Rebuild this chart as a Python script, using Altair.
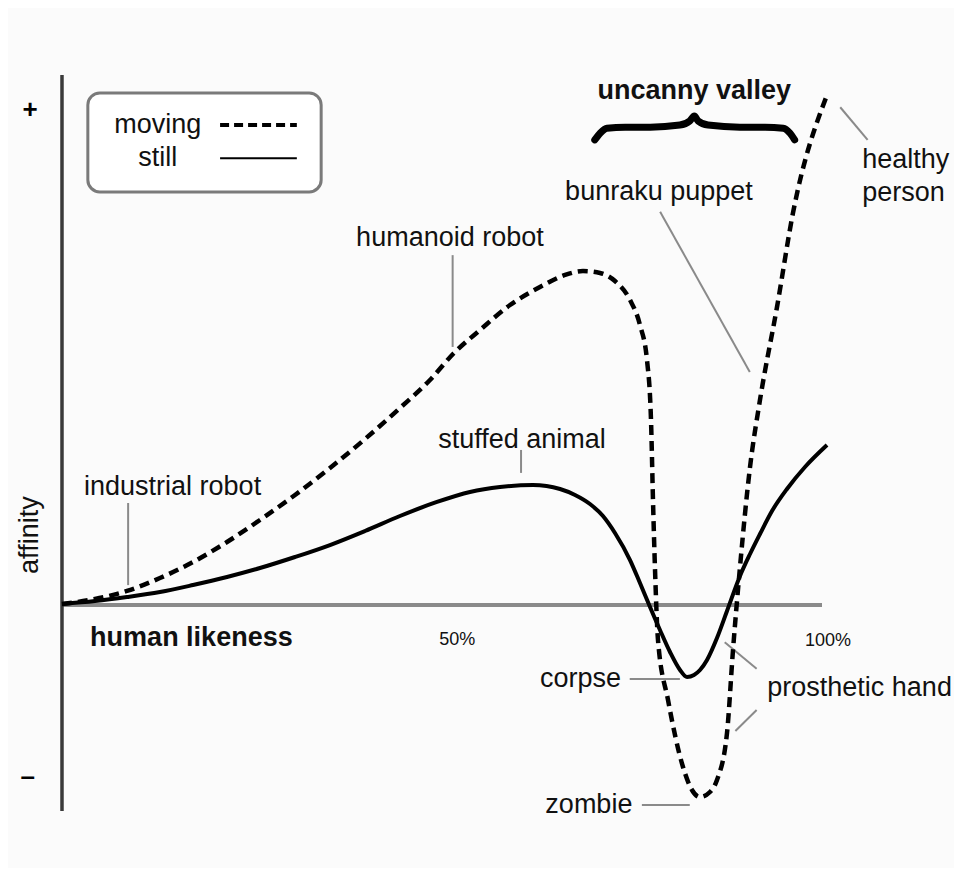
import altair as alt
import pandas as pd

# ---- curve data: human likeness (%) vs affinity (arbitrary units) ----
still_x = [0, 4.34, 8.55, 12.89, 17.24, 21.71, 26.05, 30.66, 35.26, 39.87, 44.47, 49.34, 53.68,
           57.63, 61.97, 65.53, 67.5, 69.47, 71.18, 72.76, 74.74, 76.05, 77.37, 78.68, 80.0, 81.32,
           82.24, 83.16, 83.95, 84.87, 86.18, 87.5, 89.21, 90.53, 91.84, 93.42, 95.39, 97.76, 100.66]
still_y = [0.2, 0.78, 1.57, 2.55, 3.92, 5.49, 7.25, 9.41, 11.76, 14.51, 17.45, 20.2, 22.16,
           23.14, 23.53, 22.75, 21.57, 19.8, 17.45, 14.12, 8.82, 4.31, -0.39, -4.9, -9.22, -12.75,
           -14.12, -13.73, -12.75, -10.78, -6.47, -1.18, 5.69, 10.0, 13.92, 18.43, 22.75, 27.06, 31.37]

moving_x = [0, 4.34, 8.55, 12.89, 17.24, 21.71, 26.05, 30.66, 35.26, 39.87, 44.47, 48.42, 51.45,
            55.0, 58.95, 62.89, 66.18, 68.55, 70.79, 72.76, 74.74, 76.05, 76.97, 77.5, 77.76,
            78.03, 78.42, 79.74, 81.71, 82.89, 83.95, 85.26, 86.18, 87.5, 88.29, 89.21, 90.53,
            91.84, 94.08, 96.18, 100.66]
moving_y = [0.2, 1.18, 2.75, 5.29, 8.43, 12.35, 16.67, 21.57, 26.86, 32.55, 38.63, 44.12, 49.22,
            53.92, 58.82, 62.35, 64.71, 65.49, 65.1, 63.53, 59.8, 54.9, 48.04, 36.27, 20.59,
            6.86, -6.86, -18.63, -31.76, -36.27, -37.65, -36.67, -34.31, -25.1, -8.82, 7.45, 27.06,
            40.2, 58.43, 76.86, 100.0]

# ---- brace over the uncanny valley ----
brace_x = [70.1, 70.8, 71.7, 74.1, 77.4, 81.3, 82.6, 83.2, 83.7, 85.0, 89.2, 92.5, 94.9, 95.8, 96.4]
brace_y = [91.2, 92.5, 93.5, 93.7, 93.7, 94.1, 94.9, 95.9, 94.9, 94.1, 93.7, 93.7, 93.5, 92.5, 91.2]

# ---- labels ----
label_text = ["industrial robot", "humanoid robot", "stuffed animal", "bunraku puppet",
              "healthy", "person", "corpse", "zombie", "prosthetic hand"]
label_x = [2.9, 38.7, 49.5, 66.2, 105.3, 105.3, 62.9, 63.6, 92.8]
label_y = [23.1, 72.0, 32.4, 81.0, 87.3, 80.8, -14.5, -39.2, -16.3]

# leader lines (x, y) -> (x2, y2)
lead_x = [8.7, 51.4, 60.4, 78.7, 102.4, 74.7, 76.3, 87.2, 88.6]
lead_y = [20.0, 68.6, 30.4, 77.1, 97.6, -14.5, -39.2, -7.3, -24.7]
lead_x2 = [8.7, 51.4, 60.4, 90.5, 106.0, 81.3, 82.6, 91.4, 91.4]
lead_y2 = [3.9, 50.6, 25.9, 45.7, 91.2, -14.5, -39.2, -12.5, -20.6]

XDOM = [-7.105, 117.368]
YDOM = [-51.569, 117.059]
W, H = 946, 860
FONT = "Liberation Sans"
FS = 27

xs = alt.Scale(domain=XDOM, nice=False, zero=False)
ys = alt.Scale(domain=YDOM, nice=False, zero=False)
X = lambda f: alt.X(f, type="quantitative", scale=xs, axis=None)
Y = lambda f: alt.Y(f, type="quantitative", scale=ys, axis=None)

still_df = pd.DataFrame({"x": still_x, "y": still_y})
moving_df = pd.DataFrame({"x": moving_x, "y": moving_y})
brace_df = pd.DataFrame({"x": brace_x, "y": brace_y})
labels_df = pd.DataFrame({"x": label_x, "y": label_y, "t": label_text})
lead_df = pd.DataFrame({"x": lead_x, "y": lead_y, "x2": lead_x2, "y2": lead_y2})

# axes drawn as rules
vaxis = alt.Chart(pd.DataFrame({"x": [0], "y": [103.9], "y2": [-40.4]})).mark_rule(
    color="#3a3a3a", strokeWidth=3.5).encode(x=X("x"), y=Y("y"), y2="y2")
haxis = alt.Chart(pd.DataFrame({"x": [0], "x2": [100], "y": [0]})).mark_rule(
    color="#8a8a8a", strokeWidth=4).encode(x=X("x"), x2="x2", y=Y("y"))

still = alt.Chart(still_df).mark_line(color="black", strokeWidth=4, interpolate="monotone").encode(
    x=X("x"), y=Y("y"), order="x:Q")
moving = alt.Chart(moving_df).mark_line(color="black", strokeWidth=4.5, strokeDash=[10, 6],
                                        interpolate="monotone").encode(
    x=X("x"), y=Y("y"), order="x:Q")

brace = alt.Chart(brace_df).mark_line(color="black", strokeWidth=7, strokeCap="round",
                                      interpolate="monotone").encode(x=X("x"), y=Y("y"), order="x:Q")

leaders = alt.Chart(lead_df).mark_rule(color="#8a8a8a", strokeWidth=2).encode(
    x=X("x"), y=Y("y"), x2="x2", y2="y2")

labels = alt.Chart(labels_df).mark_text(align="left", baseline="middle", font=FONT, fontSize=FS,
                                        color="#111111").encode(x=X("x"), y=Y("y"), text="t")

bold_df = pd.DataFrame({"x": [83.2, 3.7], "y": [100.8, -6.5], "t": ["uncanny valley", "human likeness"]})
bold_c = alt.Chart(bold_df.iloc[[0]]).mark_text(align="center", baseline="middle", font=FONT, fontSize=FS,
                                               fontWeight="bold", color="#111111").encode(
    x=X("x"), y=Y("y"), text="t")
bold_l = alt.Chart(bold_df.iloc[[1]]).mark_text(align="left", baseline="middle", font=FONT, fontSize=FS,
                                               fontWeight="bold", color="#111111").encode(
    x=X("x"), y=Y("y"), text="t")

ticks_df = pd.DataFrame({"x": [52.0, 100.8], "y": [-6.9, -7.1], "t": ["50%", "100%"]})
ticks = alt.Chart(ticks_df).mark_text(align="center", baseline="middle", font=FONT, fontSize=18,
                                      color="#111111").encode(x=X("x"), y=Y("y"), text="t")

signs_df = pd.DataFrame({"x": [-4.2, -4.5], "y": [97.1, -33.7], "t": ["+", "–"]})
signs = alt.Chart(signs_df).mark_text(align="center", baseline="middle", font=FONT, fontSize=26,
                                      fontWeight="bold", color="black").encode(x=X("x"), y=Y("y"), text="t")

aff = alt.Chart(pd.DataFrame({"x": [-4.2], "y": [13.7], "t": ["affinity"]})).mark_text(
    align="center", baseline="middle", font=FONT, fontSize=FS, angle=270, color="#111111").encode(
    x=X("x"), y=Y("y"), text="t")

# legend box
box = alt.Chart(pd.DataFrame({"x": [3.4], "x2": [34.1], "y": [100.4], "y2": [81.0]})).mark_rect(
    fill="white", stroke="#7a7a7a", strokeWidth=3, cornerRadius=12).encode(
    x=X("x"), x2="x2", y=Y("y"), y2="y2")
leg_text = alt.Chart(pd.DataFrame({"x": [12.6, 12.6], "y": [94.1, 87.6], "t": ["moving", "still"]})).mark_text(
    align="center", baseline="middle", font=FONT, fontSize=FS, color="#111111").encode(
    x=X("x"), y=Y("y"), text="t")
leg_dash = alt.Chart(pd.DataFrame({"x": [20.8], "x2": [30.9], "y": [94.1]})).mark_rule(
    color="black", strokeWidth=4, strokeDash=[9, 5]).encode(x=X("x"), x2="x2", y=Y("y"))
leg_solid = alt.Chart(pd.DataFrame({"x": [20.8], "x2": [30.9], "y": [87.6]})).mark_rule(
    color="black", strokeWidth=2).encode(x=X("x"), x2="x2", y=Y("y"))

chart = alt.layer(
    haxis, vaxis, leaders, still, moving, brace, labels, bold_c, bold_l, ticks, signs, aff,
    box, leg_text, leg_dash, leg_solid
).properties(
    width=W, height=H, padding=0, autosize=alt.AutoSizeParams(type="none"),
    background="#fbfbfb"
).configure_view(stroke=None, clip=False)

chart.save("out.html", embed_options={"renderer": "svg", "actions": False})
